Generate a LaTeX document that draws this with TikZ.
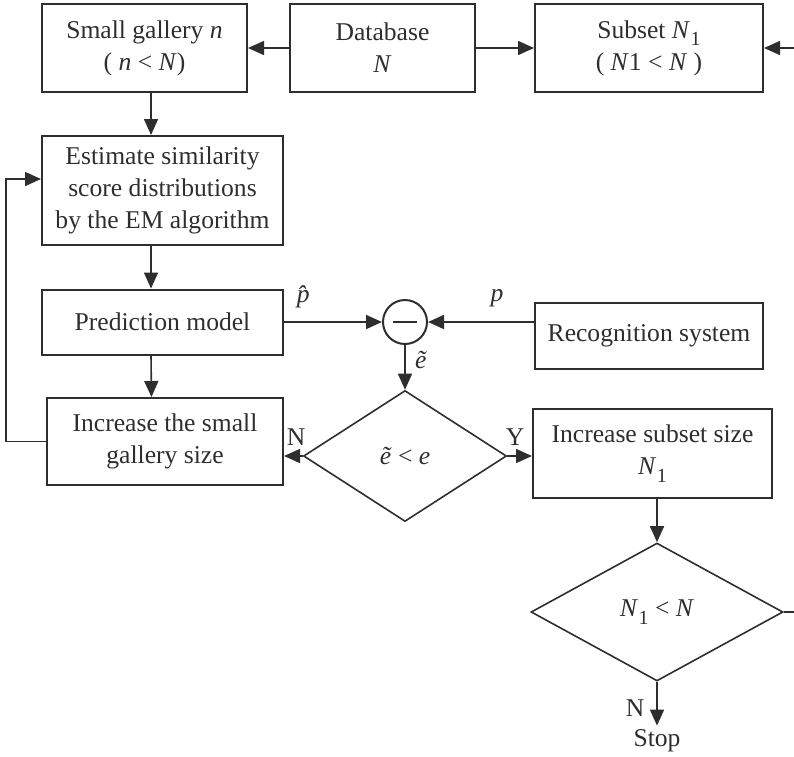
\documentclass[tikz,border=0pt]{standalone}
\usepackage{fontspec}
\setmainfont{Liberation Serif}
\usetikzlibrary{arrows.meta,shapes.geometric}
\definecolor{ink}{gray}{0.18}
\newcommand{\Nsub}{\textit{N}\kern0.5pt\raisebox{-0.3em}{\fontsize{20}{20}\selectfont 1}}
\begin{document}
\begin{tikzpicture}[x=1pt,y=-1pt,
  font=\fontsize{25.6}{32}\selectfont,
  box/.style={draw=ink, line width=2pt, inner sep=0pt, align=center, text=ink},
  dia/.style={draw=ink, line width=1.6pt, shape=diamond, inner sep=0pt, text=ink},
  arr/.style={draw=ink, line width=1.6pt, -{Triangle[length=16pt,width=14pt]}},
  plain/.style={draw=ink, line width=1.6pt},
  lbl/.style={text=ink, inner sep=0pt}]
\useasboundingbox (0,0) rectangle (794,756);

\node[box, minimum width=205pt, minimum height=88pt] (sg) at (144.5,48)
  {Small gallery \textit{n}\\( \textit{n} < \textit{N})};
\node[box, minimum width=185pt, minimum height=88pt] (db) at (382.5,48)
  {Database\\\textit{N}};
\node[box, minimum width=228pt, minimum height=88pt] (sub) at (649,48)
  {Subset \Nsub\\( \textit{N}1 < \textit{N} )};
\node[box, minimum width=241pt, minimum height=109pt] (est) at (162.5,190.5)
  {Estimate similarity\\score distributions\\by the EM algorithm};
\node[box, minimum width=241pt, minimum height=65pt] (pred) at (162.5,322)
  {Prediction model};
\node[box, minimum width=236pt, minimum height=87pt] (inc) at (165,441.5)
  {Increase the small\\gallery size};
\node[circle, draw=ink, line width=2pt, minimum size=44pt, inner sep=0pt] (circ) at (405,322) {};
\draw[ink, line width=2pt] ([xshift=-12pt]circ.center) -- ([xshift=12pt]circ.center);
\node[box, minimum width=228pt, minimum height=66pt] (rec) at (649,336)
  {Recognition system};
\node[dia, minimum width=203pt, minimum height=131pt] (d1) at (405,456)
  {\textit{\~e} < \textit{e}};
\node[box, minimum width=239pt, minimum height=89pt] (inc2) at (652.5,453.5)
  {Increase subset size\\\Nsub};
\node[dia, minimum width=252pt, minimum height=138pt] (d2) at (657,612)
  {\Nsub{} < \textit{N}};
\node[lbl] (stop) at (657,741) {Stop};
\coordinate (rin) at (794,48);
\coordinate (stub) at (794,612);

% connectors
\draw[arr] (db.west) -- (sg.east);
\draw[arr] (db.east) -- (sub.west);
\draw[arr] (rin) -- (sub.east);
\draw[arr] ([xshift=6.5pt]sg.south) -- ([xshift=6.5pt]sg.south |- est.north);
\draw[arr] ([xshift=-11.5pt]est.south) -- ([xshift=-11.5pt]est.south |- pred.north);
\draw[arr] ([xshift=-11.5pt]pred.south) -- ([xshift=-13.5pt]inc.north);
\draw[arr] (pred.east |- circ) -- (circ.west);
\draw[arr] (rec.west |- circ) -- (circ.east);
\draw[arr] (circ.south) -- (d1.north);
\draw[arr] (d1.west) -- (d1.west -| inc.east);
\draw[arr] (d1.east) -- (d1.east -| inc2.west);
\draw[arr] (inc.west) -- ++(-40,0) |- ([yshift=11.5pt]est.west);
\draw[arr] (inc2.south -| d2.north) -- (d2.north);
\draw[arr] (d2.south) -- ([yshift=4pt]stop.north);
\draw[plain] (d2.east) -- (stub);

% labels
\node[lbl] (phat) at (308,297) {\textit{\^p}};
\node[lbl] (plab) at (497,298) {\textit{p}};
\node[lbl] (etil) at (421,360) {\textit{\~e}};
\node[lbl] (nlab) at (296,437) {N};
\node[lbl] (ylab) at (515,437) {Y};
\node[lbl] (nlab2) at (635,708) {N};
\end{tikzpicture}
\end{document}
